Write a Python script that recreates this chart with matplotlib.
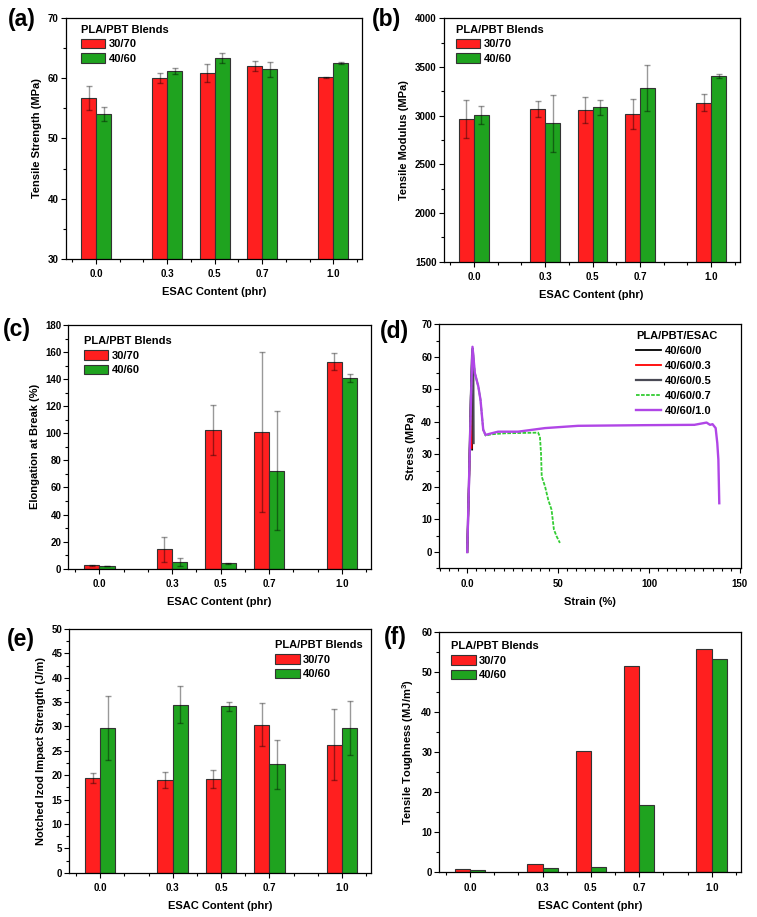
import matplotlib
matplotlib.use('Agg')
import matplotlib.pyplot as plt
from matplotlib.ticker import MultipleLocator, FixedLocator

plt.rcParams['font.family'] = ['Liberation Sans', 'DejaVu Sans']
plt.rcParams['font.weight'] = 'bold'
plt.rcParams['axes.labelweight'] = 'bold'
plt.rcParams['mathtext.fontset'] = 'custom'
plt.rcParams['mathtext.rm'] = 'Liberation Sans:bold'
plt.rcParams['mathtext.bf'] = 'Liberation Sans:bold'

# ESAC content categories (phr)
esac = [0.0, 0.3, 0.5, 0.7, 1.0]
esac_labels = ['0.0', '0.3', '0.5', '0.7', '1.0']
blends = ['30/70', '40/60']

# (a) tensile strength, MPa
ts_3070 = [56.8, 60.1, 60.9, 62.1, 60.2]
ts_3070_err = [2.0, 0.8, 1.5, 0.8, 0.1]
ts_4060 = [54.1, 61.3, 63.4, 61.5, 62.6]
ts_4060_err = [1.2, 0.5, 0.8, 1.2, 0.2]

# (b) tensile modulus, MPa
tm_3070 = [2966, 3069, 3058, 3021, 3134]
tm_3070_err = [200, 80, 135, 155, 90]
tm_4060 = [3007, 2921, 3086, 3288, 3411]
tm_4060_err = [95, 290, 80, 235, 20]

# (c) elongation at break, %
eb_3070 = [2.5, 14.3, 102.7, 101.0, 153.0]
eb_3070_err = [0.3, 9.0, 18.5, 59.0, 6.0]
eb_4060 = [2.0, 4.9, 3.9, 72.4, 141.0]
eb_4060_err = [0.3, 2.7, 0.5, 43.8, 3.0]

# (e) notched izod impact strength, J/m
imp_3070 = [19.5, 19.0, 19.2, 30.4, 26.3]
imp_3070_err = [1.0, 1.6, 1.8, 4.4, 7.3]
imp_4060 = [29.7, 34.5, 34.1, 22.2, 29.7]
imp_4060_err = [6.6, 3.8, 0.9, 5.0, 5.5]

# (f) tensile toughness, MJ/m3
tough_3070 = [0.75, 2.0, 30.3, 51.5, 55.9]
tough_4060 = [0.5, 1.2, 1.25, 16.8, 53.3]

# (d) stress-strain curves, PLA/PBT/ESAC 40/60/x
ss_labels = ['40/60/0', '40/60/0.3', '40/60/0.5', '40/60/0.7', '40/60/1.0']
strain_0 = [0, 1.0, 2.0, 2.6, 2.7]
stress_0 = [0, 22, 48, 61.5, 31.5]
strain_03 = [0, 1.0, 1.8, 2.2, 2.4]
stress_03 = [0, 22, 40, 48, 32]
strain_05 = [0, 1.0, 2.0, 3.0, 3.3, 3.5]
stress_05 = [0, 22, 48, 62.5, 60, 33.5]
strain_07 = [0, 1.0, 2.0, 2.9, 4.2, 6.1, 7.3, 8.8, 10.1, 13.4, 20.7, 30, 39.0, 40.0,
             40.6, 41.0, 42.8, 44.6, 46.4, 47.7, 49.2, 51.0]
stress_07 = [0, 22, 45, 62.5, 55, 50.9, 46.8, 37.6, 35.8, 36.2, 36.5, 36.6, 36.7, 35.5,
             30.4, 23.2, 20.2, 16.0, 13.0, 6.9, 4.8, 2.8]
strain_10 = [0, 1.0, 2.0, 2.9, 4.2, 6.1, 7.3, 8.8, 10.1, 13.4, 17, 28, 42.8, 61, 97.8,
             125, 131.7, 133.6, 135, 136.7, 137.6, 138.2, 138.7]
stress_10 = [0, 22, 45, 63.1, 55, 50.9, 46.8, 37.6, 36.0, 36.5, 37, 37, 38.1, 38.8, 39.0,
             39.1, 39.8, 39.1, 39.3, 38.1, 33.5, 28.4, 15.0]

red = '#ff1f1f'
green = '#1fa31f'
W = 0.063

fig = plt.figure(figsize=(7.57, 9.17), dpi=100)


def style_axes(ax):
    ax.tick_params(which='both', direction='out', top=False, right=False,
                   labelsize=7, width=0.8)
    ax.tick_params(which='major', length=3.5)
    ax.tick_params(which='minor', length=2)
    ax.tick_params(axis='x', which='major', pad=4)
    ax.tick_params(axis='y', which='major', pad=1.5)
    for s in ax.spines.values():
        s.set_linewidth(0.9)


def bar_panel(rect, v1, e1, v2, e2, ylim, major, minor, ylabel, legloc, anchor):
    ax = fig.add_axes(rect)
    x1 = [x - W / 2 for x in esac]
    x2 = [x + W / 2 for x in esac]
    ek = dict(ecolor=(0, 0, 0, 0.4), elinewidth=1.0, capsize=2.2, capthick=1.0)
    if e1 is None:
        ax.bar(x1, v1, W, color=red, edgecolor='#333333', linewidth=0.8, label=blends[0])
        ax.bar(x2, v2, W, color=green, edgecolor='#333333', linewidth=0.8, label=blends[1])
    else:
        ax.bar(x1, v1, W, yerr=e1, color=red, edgecolor='#333333', linewidth=0.8,
               label=blends[0], error_kw=ek)
        ax.bar(x2, v2, W, yerr=e2, color=green, edgecolor='#333333', linewidth=0.8,
               label=blends[1], error_kw=ek)
    ax.set_xlim(-0.128, 1.12)
    ax.set_ylim(*ylim)
    ax.xaxis.set_major_locator(FixedLocator(esac))
    ax.set_xticklabels(esac_labels)
    ax.xaxis.set_minor_locator(FixedLocator([-0.1, 0.1, 0.2, 0.4, 0.6, 0.8, 0.9, 1.1]))
    ax.yaxis.set_major_locator(MultipleLocator(major))
    ax.yaxis.set_minor_locator(MultipleLocator(minor))
    ax.set_xlabel('ESAC Content (phr)', fontsize=8, labelpad=6)
    ax.set_ylabel(ylabel, fontsize=8, labelpad=4)
    style_axes(ax)
    ax.legend(loc=legloc, bbox_to_anchor=anchor, frameon=False, title='PLA/PBT Blends',
              title_fontproperties={'weight': 'bold', 'size': 8}, alignment='left',
              prop={'weight': 'bold', 'size': 8}, handlelength=2.2, handleheight=0.95,
              labelspacing=0.35, handletextpad=0.3, borderaxespad=0.3)
    return ax


bar_panel([0.0868, 0.7179, 0.391, 0.2622], ts_3070, ts_3070_err, ts_4060, ts_4060_err,
          (30, 70), 10, 5, 'Tensile Strength (MPa)', 'upper left', (0.025, 1.005))
bar_panel([0.586, 0.7146, 0.391, 0.2654], tm_3070, tm_3070_err, tm_4060, tm_4060_err,
          (1500, 4000), 500, 250, 'Tensile Modulus (MPa)', 'upper left', (0.015, 1.005))
bar_panel([0.0902, 0.3798, 0.40, 0.2658], eb_3070, eb_3070_err, eb_4060, eb_4060_err,
          (0, 180), 20, 10, 'Elongation at Break (%)', 'upper left', (0.025, 0.985))
bar_panel([0.0915, 0.0483, 0.3985, 0.2658], imp_3070, imp_3070_err, imp_4060, imp_4060_err,
          (0, 50), 5, 2.5, 'Notched Izod Impact Strength (J/m)', 'upper right', (1.0, 0.985))
bar_panel([0.580, 0.0487, 0.3985, 0.2617], tough_3070, None, tough_4060, None,
          (0, 60), 10, 5, r'Tensile Toughness (MJ/m$^{\mathbf{3}}$)', 'upper left', (0.015, 0.995))

# (d) stress-strain
axd = fig.add_axes([0.580, 0.3803, 0.3985, 0.266])
axd.plot(strain_0, stress_0, color='black', lw=1.3, label=ss_labels[0])
axd.plot(strain_03, stress_03, color='red', lw=1.3, label=ss_labels[1])
axd.plot(strain_05, stress_05, color='#4a4a55', lw=1.6, label=ss_labels[2])
axd.plot(strain_07, stress_07, color='#33cc33', lw=1.3, ls=(0, (2, 0.8)), label=ss_labels[3])
axd.plot(strain_10, stress_10, color='#b046e6', lw=1.7, label=ss_labels[4])
axd.set_xlim(-15.5, 150.5)
axd.set_ylim(-5, 70)
axd.xaxis.set_major_locator(FixedLocator([0, 50, 100, 150]))
axd.set_xticklabels(['0.0', '50', '100', '150'])
axd.xaxis.set_minor_locator(MultipleLocator(5))
axd.yaxis.set_major_locator(MultipleLocator(10))
axd.yaxis.set_minor_locator(MultipleLocator(5))
axd.set_xlabel('Strain (%)', fontsize=8, labelpad=6)
axd.set_ylabel('Stress (MPa)', fontsize=8, labelpad=4)
style_axes(axd)
axd.legend(loc='upper right', bbox_to_anchor=(0.955, 1.015), frameon=False, title='PLA/PBT/ESAC',
           title_fontproperties={'weight': 'bold', 'size': 8}, alignment='left',
           prop={'weight': 'bold', 'size': 8}, handlelength=2.3, labelspacing=0.45,
           handletextpad=0.3)

# panel letters
for (px, py), letter in zip([(8, 8), (372, 8), (3, 318), (380, 320), (7, 628), (384, 626)],
                            ['(a)', '(b)', '(c)', '(d)', '(e)', '(f)']):
    fig.text(px / 757, 1 - py / 917, letter, fontsize=16.5, fontweight='bold',
             ha='left', va='top')

fig.savefig('out.png', dpi=100, facecolor='white')
